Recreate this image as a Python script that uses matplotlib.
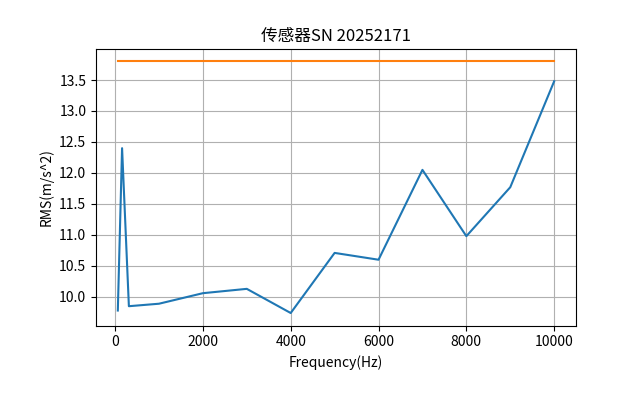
import matplotlib
matplotlib.use("Agg")
import matplotlib.pyplot as plt

plt.rcParams['font.family'] = ['Noto Sans CJK SC', 'DejaVu Sans']
plt.rcParams['axes.unicode_minus'] = False

freq = [63, 160, 315, 1000, 2000, 3000, 4000, 5000, 6000, 7000, 8000, 9000, 10000]
rms = [9.78, 12.40, 9.85, 9.89, 10.06, 10.13, 9.74, 10.71, 10.60, 12.05, 10.98, 11.77, 13.48]
limit = [13.80] * len(freq)

fig = plt.figure(figsize=(6.4, 4.07), dpi=100)
ax = fig.add_subplot()
fig.subplots_adjust(left=0.15, right=0.9, top=0.88, bottom=0.2)

ax.plot(freq, rms)
ax.plot(freq, limit)
ax.grid(True)
ax.set(xlabel="Frequency(Hz)", ylabel="RMS(m/s^2)", title="传感器SN 20252171")
ax.set_yticks([10.0, 10.5, 11.0, 11.5, 12.0, 12.5, 13.0, 13.5])

fig.savefig("out.png")
